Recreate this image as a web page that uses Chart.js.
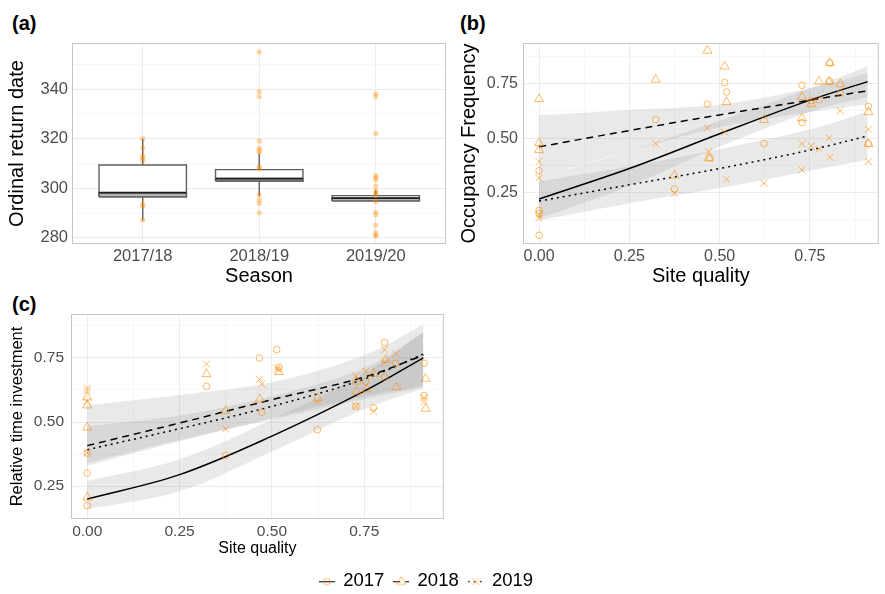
<!DOCTYPE html>
<html lang="en">
<head>
<meta charset="UTF-8">
<title>Return date, occupancy frequency and time investment</title>
<script src="https://cdn.jsdelivr.net/npm/chart.js@4.4.0/dist/chart.umd.min.js"></script>
<style>
  html, body { margin: 0; padding: 0; background: #fff; }
  #page { position: relative; width: 885px; height: 594px; overflow: hidden; font-family: "Liberation Sans", Arial, sans-serif; }
  canvas { position: absolute; }
  .tag { position: absolute; font-weight: bold; font-size: 20px; line-height: 20px; color: #000; }
</style>
</head>
<body>
<div id="page">
  <div class="tag" style="left:12px;top:13px">(a)</div>
  <div class="tag" style="left:460px;top:13px">(b)</div>
  <div class="tag" style="left:12px;top:294px">(c)</div>
  <canvas id="chartA" width="450" height="290" style="left:0;top:0"></canvas>
  <canvas id="chartB" width="445" height="290" style="left:440px;top:0"></canvas>
  <canvas id="chartC" width="450" height="280" style="left:0;top:285px"></canvas>
  <canvas id="legend" width="853" height="90" style="left:0;top:562px"></canvas>
</div>
<script>
// ---- panel (a): return date per season ----
const seasons = ['2017/18', '2018/19', '2019/20'];
const boxLow = [287, 297, 294.7];
const boxQ1 = [296.5, 302.9, 294.9];
const boxMedian = [298.2, 303.9, 296.0];
const boxQ3 = [309.4, 307.5, 297.0];
const boxHigh = [320, 314, 299.3];
const returnDates = [
  [320, 316.2, 313.1, 312.1, 311.2, 293.5, 292.8, 287.2],
  [354.9, 339, 337, 319.1, 316.2, 315.2, 314.5, 308.7, 307.9, 297.3, 295.3, 293.9, 290.1],
  [338.1, 337, 322.1, 305.1, 304.3, 303.4, 300.9, 299, 298, 297, 294.6, 290.3, 289.2, 285, 282.1, 281.1, 280.7]
];
const dateTicks = [280, 290, 300, 310, 320, 330, 340, 350];

// ---- panels (b) and (c): site quality ----
const years = ['2017', '2018', '2019'];
const qualityTicks = [0, 0.125, 0.25, 0.375, 0.5, 0.625, 0.75, 0.875];
const fractionTicks = [0.125, 0.25, 0.375, 0.5, 0.625, 0.75, 0.875];
const fitX = [0, 0.25, 0.5, 0.75, 0.91];

// (b) occupancy frequency fits and 95% bands
const occFit2017 = [0.22, 0.36, 0.52, 0.675, 0.76];
const occLow2017 = [0.13, 0.28, 0.46, 0.62, 0.69];
const occHigh2017 = [0.32, 0.44, 0.58, 0.73, 0.83];
const occFit2018 = [0.46, 0.535, 0.607, 0.675, 0.718];
const occLow2018 = [0.32, 0.44, 0.55, 0.62, 0.655];
const occHigh2018 = [0.605, 0.63, 0.655, 0.73, 0.80];
const occFit2019 = [0.21, 0.285, 0.36, 0.445, 0.51];
const occLow2019 = [0.12, 0.20, 0.27, 0.35, 0.40];
const occHigh2019 = [0.30, 0.37, 0.45, 0.54, 0.62];

const occPts2017 = [[0, 0.35], [0, 0.167], [0, 0.154], [0, 0.053], [0.323, 0.585], [0.375, 0.266], [0.466, 0.657],
  [0.473, 0.408], [0.514, 0.756], [0.519, 0.712], [0.623, 0.475], [0.728, 0.743], [0.728, 0.572], [0.754, 0.672],
  [0.775, 0.677], [0.805, 0.846], [0.805, 0.761], [0.834, 0.707], [0.912, 0.646], [0.912, 0.474]];
const occPts2018 = [[0, 0.68], [0, 0.477], [0, 0.446], [0.323, 0.769], [0.375, 0.328], [0.466, 0.903], [0.47, 0.408],
  [0.514, 0.83], [0.519, 0.666], [0.623, 0.584], [0.728, 0.689], [0.728, 0.592], [0.754, 0.657], [0.775, 0.761],
  [0.803, 0.761], [0.805, 0.846], [0.834, 0.749], [0.912, 0.62], [0.912, 0.474]];
const occPts2019 = [[0, 0.392], [0, 0.316], [0, 0.146], [0, 0.131], [0.323, 0.474], [0.375, 0.246], [0.466, 0.546],
  [0.47, 0.438], [0.514, 0.528], [0.519, 0.311], [0.623, 0.292], [0.728, 0.474], [0.728, 0.354], [0.754, 0.464],
  [0.775, 0.449], [0.803, 0.5], [0.805, 0.412], [0.834, 0.626], [0.912, 0.541], [0.912, 0.392]];

// (c) relative time investment fits and 95% bands
const timeFit2017 = [0.20, 0.295, 0.445, 0.62, 0.75];
const timeLow2017 = [0.16, 0.23, 0.385, 0.55, 0.63];
const timeHigh2017 = [0.27, 0.355, 0.51, 0.69, 0.85];
const timeFit2018 = [0.408, 0.496, 0.587, 0.675, 0.76];
const timeLow2018 = [0.33, 0.425, 0.515, 0.60, 0.64];
const timeHigh2018 = [0.565, 0.605, 0.655, 0.76, 0.88];
const timeFit2019 = [0.392, 0.474, 0.561, 0.667, 0.765];
const timeLow2019 = [0.34, 0.43, 0.51, 0.59, 0.635];
const timeHigh2019 = [0.483, 0.525, 0.60, 0.71, 0.85];

const timePts2017 = [[0, 0.301], [0, 0.174], [0, 0.379], [0.323, 0.639], [0.375, 0.37], [0.466, 0.749], [0.473, 0.538],
  [0.513, 0.782], [0.519, 0.713], [0.623, 0.47], [0.727, 0.561], [0.754, 0.658], [0.775, 0.555], [0.805, 0.81],
  [0.805, 0.675], [0.835, 0.729], [0.912, 0.729], [0.912, 0.604]];
const timePts2018 = [[0, 0.596], [0, 0.565], [0, 0.479], [0, 0.206], [0.323, 0.687], [0.375, 0.544], [0.467, 0.589],
  [0.519, 0.695], [0.624, 0.593], [0.729, 0.619], [0.729, 0.658], [0.756, 0.628], [0.776, 0.688], [0.808, 0.743],
  [0.837, 0.636], [0.916, 0.669], [0.916, 0.552]];
const timePts2019 = [[0, 0.632], [0, 0.622], [0, 0.58], [0, 0.38], [0.323, 0.726], [0.375, 0.473], [0.466, 0.666],
  [0.473, 0.648], [0.513, 0.71], [0.519, 0.704], [0.623, 0.58], [0.727, 0.678], [0.727, 0.561], [0.754, 0.697],
  [0.775, 0.542], [0.805, 0.782], [0.805, 0.73], [0.835, 0.765], [0.912, 0.594], [0.912, 0.58]];

// ---- styling ----
Chart.defaults.font.family = '"Liberation Sans", Arial, sans-serif';
Chart.defaults.animation = false;
Chart.defaults.responsive = false;
Chart.defaults.plugins.legend.display = false;
Chart.defaults.plugins.tooltip.enabled = false;

const ORANGE = 'rgba(255, 140, 0, 0.6)';
const DOT = 'rgba(255, 140, 0, 0.35)';
const BAND = 'rgba(153, 153, 153, 0.22)';
const TICK = '#4d4d4d';
const markers = ['circle', 'triangle', 'crossRot'];
const markerSize = [3.3, 5.2, 5];
const dashes = [[], [7, 5], [2, 4]];
const CURVE = 0.35;

// ggplot style panel border drawn over the data
const panelFrame = {
  id: 'panelFrame',
  afterDatasetsDraw(chart) {
    const { ctx, chartArea: a } = chart;
    ctx.save();
    ctx.strokeStyle = '#c6c6c6';
    ctx.lineWidth = 1;
    ctx.strokeRect(a.left + 0.5, a.top + 0.5, a.right - a.left - 1, a.bottom - a.top - 1);
    ctx.restore();
  }
};

function gridScale(o) {
  return {
    type: 'linear',
    min: o.min,
    max: o.max,
    afterBuildTicks: s => { s.ticks = o.ticks.map(v => ({ value: v })); },
    afterFit: s => { if (o.horizontal) s.height = o.size; else s.width = o.size; },
    border: { display: false },
    grid: {
      drawTicks: false,
      color: c => o.isMajor(c.tick.value) ? '#ebebeb' : '#f4f4f4',
      lineWidth: c => o.isMajor(c.tick.value) ? 1 : 0.7
    },
    ticks: {
      autoSkip: false,
      maxRotation: 0,
      padding: o.tickPad,
      color: TICK,
      font: { size: o.tickSize },
      callback: v => o.isMajor(v) ? o.format(v) : ''
    },
    title: {
      display: true,
      text: o.title,
      color: '#000',
      font: { size: o.titleSize },
      padding: o.titlePad
    }
  };
}

const quarter = v => Math.abs(v * 4 - Math.round(v * 4)) < 1e-9;

// ---- chart (a) ----
const BOX_HALF = 0.375;
const pt = (x, y) => ({ x, y });
const rect = (x0, x1, y0, y1) => [pt(x0, y0), pt(x1, y0), pt(x1, y1), pt(x0, y1), pt(x0, y0)];
const lineDs = (data, extra) => Object.assign({ data, showLine: true, pointRadius: 0, borderWidth: 1.4, borderColor: '#5f5f5f' }, extra);

const dsA = [];
seasons.forEach((s, i) => {
  const cx = i + 1;
  dsA.push(lineDs([pt(cx, boxHigh[i]), pt(cx, boxQ3[i])], { order: 4 }));
  dsA.push(lineDs([pt(cx, boxQ1[i]), pt(cx, boxLow[i])], { order: 4 }));
  dsA.push(lineDs(rect(cx - BOX_HALF, cx + BOX_HALF, boxQ1[i], boxQ3[i]), { fill: 'shape', backgroundColor: '#ffffff', order: 3 }));
  dsA.push(lineDs(rect(cx - BOX_HALF, cx + BOX_HALF, boxQ1[i], boxMedian[i]), { fill: 'shape', backgroundColor: '#b3b3b3', order: 2 }));
  dsA.push(lineDs([pt(cx - BOX_HALF, boxMedian[i]), pt(cx + BOX_HALF, boxMedian[i])], { borderColor: '#1f1f1f', borderWidth: 1.8, order: 1 }));
});
dsA.push({
  data: returnDates.flatMap((arr, i) => arr.map(v => pt(i + 1, v))),
  pointRadius: 2.6, backgroundColor: DOT, borderWidth: 0, order: 0
});

new Chart(document.getElementById('chartA'), {
  type: 'scatter',
  data: { datasets: dsA },
  options: {
    layout: { padding: { top: 43, right: 4, left: 0, bottom: 0 } },
    scales: {
      x: gridScale({ min: 0.393, max: 3.603, ticks: [1, 2, 3], horizontal: true, size: 46, isMajor: () => true,
        format: v => seasons[Math.round(v) - 1], tickPad: 3, tickSize: 16.5, title: 'Season', titleSize: 20,
        titlePad: { top: 0, bottom: 2 } }),
      y: gridScale({ min: 277.5, max: 358.6, ticks: dateTicks, size: 72, isMajor: v => v % 20 === 0,
        format: v => String(v), tickPad: 4, tickSize: 16.5, title: 'Ordinal return date', titleSize: 20,
        titlePad: { top: 5, bottom: 0 } })
    }
  },
  plugins: [panelFrame]
});

// ---- charts (b) and (c) ----
function qualityDatasets(fits, lows, highs, pts) {
  const ds = [];
  years.forEach((y, i) => {
    const lowIndex = ds.length;
    ds.push({ data: fitX.map((x, k) => pt(x, lows[i][k])), showLine: true, pointRadius: 0, borderWidth: 0,
      borderColor: 'transparent', tension: CURVE, fill: false, order: 3 });
    ds.push({ data: fitX.map((x, k) => pt(x, highs[i][k])), showLine: true, pointRadius: 0, borderWidth: 0,
      borderColor: 'transparent', tension: CURVE, fill: lowIndex, backgroundColor: BAND, order: 3 });
  });
  years.forEach((y, i) => {
    ds.push({ data: fitX.map((x, k) => pt(x, fits[i][k])), showLine: true, pointRadius: 0, borderWidth: 1.5,
      borderColor: '#000', borderDash: dashes[i], tension: CURVE, order: 1 });
  });
  years.forEach((y, i) => {
    ds.push({ label: y, data: pts[i].map(p => pt(p[0], p[1])), pointStyle: markers[i], pointRadius: markerSize[i],
      borderColor: ORANGE, backgroundColor: 'transparent', borderWidth: 1, order: 0 });
  });
  return ds;
}

new Chart(document.getElementById('chartB'), {
  type: 'scatter',
  data: { datasets: qualityDatasets([occFit2017, occFit2018, occFit2019], [occLow2017, occLow2018, occLow2019],
    [occHigh2017, occHigh2018, occHigh2019], [occPts2017, occPts2018, occPts2019]) },
  options: {
    layout: { padding: { top: 43, right: 1, left: 0, bottom: 0 } },
    scales: {
      x: gridScale({ min: -0.0445, max: 0.9408, ticks: qualityTicks, horizontal: true, size: 46, isMajor: quarter,
        format: v => v.toFixed(2), tickPad: 3, tickSize: 16, title: 'Site quality', titleSize: 20,
        titlePad: { top: 0, bottom: 2 } }),
      y: gridScale({ min: 0.0125, max: 0.938, ticks: fractionTicks, size: 83, isMajor: quarter,
        format: v => v.toFixed(2), tickPad: 5, tickSize: 16, title: 'Occupancy Frequency', titleSize: 20,
        titlePad: { top: 17, bottom: 0 } })
    }
  },
  plugins: [panelFrame]
});

new Chart(document.getElementById('chartC'), {
  type: 'scatter',
  data: { datasets: qualityDatasets([timeFit2017, timeFit2018, timeFit2019], [timeLow2017, timeLow2018, timeLow2019],
    [timeHigh2017, timeHigh2018, timeHigh2019], [timePts2017, timePts2018, timePts2019]) },
  options: {
    layout: { padding: { top: 29, right: 4, left: 0, bottom: 0 } },
    scales: {
      x: gridScale({ min: -0.0439, max: 0.9653, ticks: qualityTicks, horizontal: true, size: 46, isMajor: quarter,
        format: v => v.toFixed(2), tickPad: 3, tickSize: 15.5, title: 'Site quality', titleSize: 16,
        titlePad: { top: 0, bottom: 6.4 } }),
      y: gridScale({ min: 0.1223, max: 0.9206, ticks: fractionTicks, size: 71, isMajor: quarter,
        format: v => v.toFixed(2), tickPad: 7, tickSize: 15.5, title: 'Relative time investment', titleSize: 16.5,
        titlePad: { top: 8, bottom: 0 } })
    }
  },
  plugins: [panelFrame]
});

// ---- shared legend ----
function legendKey(i) {
  const c = document.createElement('canvas');
  c.width = 16; c.height = 14;
  const g = c.getContext('2d');
  g.strokeStyle = '#000';
  g.lineWidth = 1;
  g.setLineDash(dashes[i]);
  g.beginPath(); g.moveTo(0, 7.5); g.lineTo(16, 7.5); g.stroke();
  g.setLineDash([]);
  g.strokeStyle = ORANGE;
  g.fillStyle = 'transparent';
  Chart.helpers.drawPoint(g, { pointStyle: markers[i], radius: markerSize[i], borderWidth: 1 }, 8, 7.5);
  return c;
}
const keys = years.map((y, i) => legendKey(i));

new Chart(document.getElementById('legend'), {
  type: 'scatter',
  data: { datasets: years.map(y => ({ label: y, data: [] })) },
  options: {
    scales: { x: { display: false }, y: { display: false } },
    plugins: {
      legend: {
        display: true, position: 'top', align: 'center',
        labels: {
          usePointStyle: true, pointStyleWidth: 14, padding: 10, color: '#000', font: { size: 18.5 },
          generateLabels: () => years.map((y, i) => ({
            text: y, pointStyle: keys[i], fillStyle: 'transparent', strokeStyle: 'transparent',
            lineWidth: 0, hidden: false, datasetIndex: i, fontColor: '#000'
          }))
        }
      }
    }
  }
});
</script>
</body>
</html>
